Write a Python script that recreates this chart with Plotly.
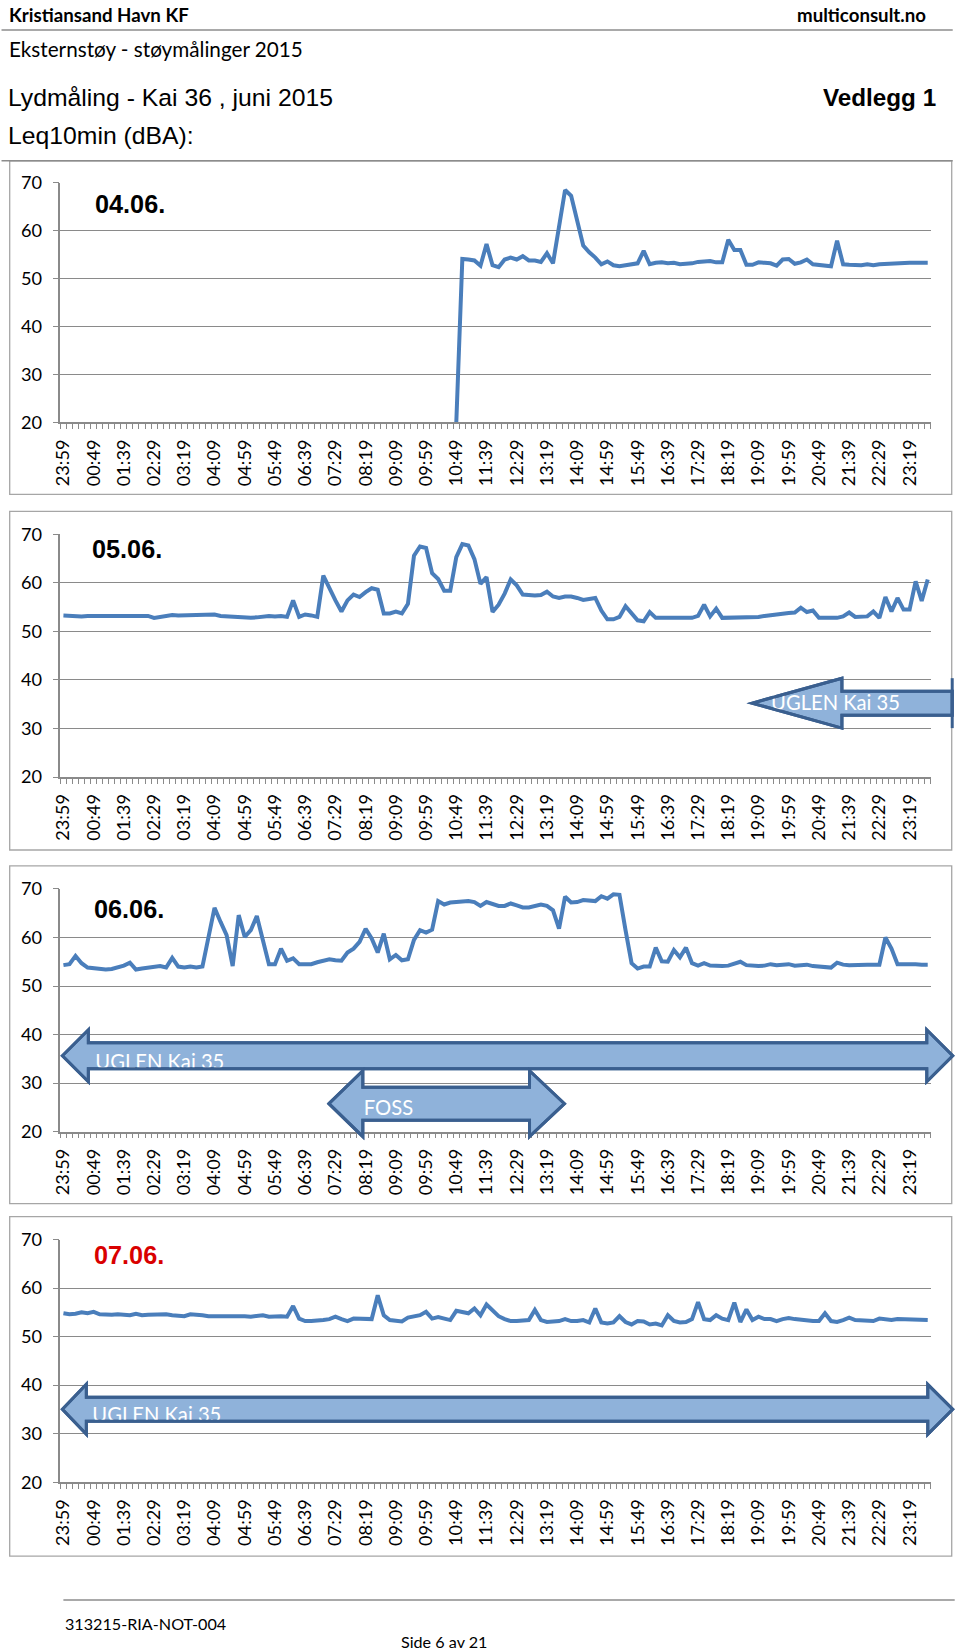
import plotly.graph_objects as go

# Layout is written in target-picture pixel coordinates (960 x 1651) and mapped into
# figure pixels; the photographed page shows the figure slightly offset and scaled.
AX, SX = 7.5, 0.9925
AY, SY = 11.0, 0.988
W, H = 960, 1666

# ---------------- data ----------------
# 10-minute categories from 23:59 (previous day) to 23:49
start_min = 23 * 60 + 59
times = []
for k in range(144):
    t = (start_min + 10 * k) % (24 * 60)
    times.append(f"{t // 60:02d}:{t % 60:02d}")

label_times = ["23:59", "00:49", "01:39", "02:29", "03:19", "04:09", "04:59", "05:49",
               "06:39", "07:29", "08:19", "09:09", "09:59", "10:49", "11:39", "12:29",
               "13:19", "14:09", "14:59", "15:49", "16:39", "17:29", "18:19", "19:09",
               "19:59", "20:49", "21:39", "22:29", "23:19"]

y_ticks = [20, 30, 40, 50, 60, 70]

day_titles = ["04.06.", "05.06.", "06.06.", "07.06."]
day_title_colors = ["#000000", "#000000", "#000000", "#D90000"]

# 04.06. - no data before 10:49
day04 = [None] * 65 + [
    20.0,
    54.1, 54.0, 53.8, 52.7, 57.2, 52.8, 52.4, 54.0, 54.4, 54.0,
    54.7, 53.8, 53.8, 53.5, 55.3, 53.2, 61.0, 68.5, 67.3, 62.4,
    56.9, 55.5, 54.4, 53.0, 53.6, 52.8, 52.6, 52.8, 53.0, 53.2,
    55.8, 53.0, 53.3, 53.4, 53.2, 53.3, 53.0, 53.0, 53.2, 53.5,
    53.7, 53.7, 53.4, 53.4, 58.1, 56.0, 56.0, 52.9, 52.9, 53.4,
    53.3, 53.2, 52.7, 54.0, 54.1, 53.1, 53.4, 54.0, 53.0, 52.9,
    52.7, 52.6, 57.9, 53.0, 52.9, 52.8, 52.8, 53.0, 52.8, 53.0,
    53.1, 53.2, 53.3, 53.3, 53.3, 53.3, 53.3, 53.3]

day05 = [
    53.3, 53.2, 53.2, 53.1, 53.2, 53.2, 53.1, 53.1, 53.0, 53.0,
    53.0, 53.1, 53.1, 53.0, 53.2, 52.8, 53.0, 53.1, 53.4, 53.3,
    53.3, 53.3, 53.4, 53.3, 53.5, 53.5, 53.2, 53.1, 53.0, 52.8,
    52.9, 52.8, 52.9, 53.1, 53.2, 53.1, 53.2, 53.0, 56.4, 53.0,
    53.5, 53.3, 53.0, 61.5, 58.8, 56.4, 54.1, 56.4, 57.6, 57.1,
    58.1, 58.9, 58.6, 53.7, 53.7, 54.1, 53.7, 55.7, 65.6, 67.5,
    67.2, 62.0, 60.8, 58.4, 58.4, 65.3, 68.0, 67.7, 64.9, 59.8,
    61.2, 54.0, 55.5, 57.8, 60.7, 59.5, 57.6, 57.4, 57.4, 57.5,
    58.2, 57.2, 56.9, 57.2, 57.2, 56.9, 56.5, 56.7, 56.9, 54.3,
    52.5, 52.5, 53.0, 55.2, 53.8, 52.3, 52.1, 54.0, 52.8, 52.8,
    53.0, 52.8, 52.8, 52.8, 52.8, 53.2, 55.5, 53.1, 54.7, 52.8,
    52.8, 52.8, 52.8, 52.8, 53.0, 53.0, 53.2, 53.4, 53.5, 53.6,
    53.8, 53.9, 54.9, 54.0, 54.3, 52.8, 52.8, 52.8, 52.8, 53.1,
    53.9, 53.0, 53.0, 53.1, 54.1, 52.8, 57.1, 54.1, 56.9, 54.5,
    54.5, 60.3, 56.3, 60.7]

day06 = [
    54.3, 54.5, 56.2, 54.7, 53.8, 53.6, 53.6, 53.4, 53.5, 53.8,
    54.2, 54.8, 53.4, 53.6, 53.8, 54.0, 54.1, 53.8, 55.8, 54.0,
    53.8, 54.0, 53.8, 54.0, 60.1, 66.1, 63.2, 60.5, 54.1, 64.6,
    60.1, 61.5, 64.4, 59.5, 54.5, 54.5, 57.7, 55.2, 55.7, 54.5,
    54.5, 54.5, 54.9, 55.2, 55.5, 55.3, 55.2, 56.9, 57.7, 59.1,
    61.8, 59.8, 56.9, 60.8, 55.5, 56.4, 55.3, 55.5, 59.5, 61.5,
    61.0, 61.6, 67.5, 66.8, 67.2, 67.3, 67.4, 67.5, 67.3, 66.5,
    67.3, 67.0, 66.5, 66.5, 67.0, 66.6, 66.2, 66.2, 66.5, 66.8,
    66.5, 65.6, 61.8, 68.4, 67.2, 67.3, 67.7, 67.5, 67.5, 68.5,
    68.0, 68.9, 68.8, 61.5, 54.7, 53.6, 54.0, 54.0, 57.9, 55.1,
    55.0, 57.4, 55.9, 57.9, 54.7, 54.2, 54.7, 54.2, 54.1, 54.1,
    54.2, 54.5, 55.0, 54.3, 54.1, 54.1, 54.2, 54.5, 54.3, 54.3,
    54.5, 54.2, 54.2, 54.4, 54.1, 54.0, 53.8, 53.8, 54.8, 54.4,
    54.3, 54.4, 54.3, 54.4, 54.4, 54.4, 60.0, 57.7, 54.5, 54.5,
    54.7, 54.5, 54.4, 54.4]

day07 = [
    54.8, 54.6, 54.7, 55.0, 54.8, 55.1, 54.6, 54.5, 54.5, 54.6,
    54.5, 54.4, 54.7, 54.4, 54.5, 54.6, 54.6, 54.6, 54.4, 54.4,
    54.2, 54.6, 54.6, 54.4, 54.2, 54.2, 54.2, 54.4, 54.4, 54.4,
    54.2, 54.1, 54.2, 54.4, 54.1, 54.2, 54.2, 54.1, 56.3, 53.7,
    53.2, 53.2, 53.2, 53.4, 53.6, 54.1, 53.6, 53.2, 53.7, 53.6,
    53.6, 53.6, 58.5, 54.4, 53.4, 53.2, 53.1, 53.9, 54.1, 54.4,
    55.1, 53.7, 54.0, 53.6, 53.4, 55.3, 55.1, 54.8, 55.8, 54.4,
    56.6, 55.3, 54.2, 53.6, 53.2, 53.2, 53.4, 53.4, 55.5, 53.4,
    53.0, 53.0, 53.2, 53.6, 53.2, 53.2, 53.4, 52.9, 55.8, 52.9,
    52.7, 52.9, 54.2, 53.0, 52.5, 53.2, 53.1, 52.5, 52.7, 52.3,
    54.4, 53.2, 52.9, 53.0, 53.6, 57.1, 53.6, 53.4, 54.4, 53.7,
    53.4, 57.0, 53.0, 55.6, 53.4, 54.1, 53.6, 53.6, 53.2, 53.6,
    53.8, 53.6, 53.4, 53.2, 53.2, 53.2, 54.8, 53.2, 53.0, 53.4,
    53.9, 53.4, 53.4, 53.4, 53.2, 53.7, 53.6, 53.4, 53.6, 53.6,
    53.6, 53.4, 53.4, 53.4]

days = [day04, day05, day06, day07]

# ---------------- layout geometry (target pixels) ----------------
def px(x):
    return ((x - AX) / SX) / W

def py(y):
    return 1 - ((y - AY) / SY) / H

def fs(size):
    return size / 0.99

PLOT_L, PLOT_R = 59, 931
Y70 = [182, 534, 889, 1240]
Y20 = [422, 777, 1132, 1483]
BOX_TOP = [160, 511, 866, 1217]
BOX_BOT = [494, 850, 1204, 1557]
BOX_L, BOX_R = 8.2, 952

GRID = "#8A8A8A"
LINE_BLUE = "#4A7EBB"
ARROW_FILL = "#8FB2DA"
ARROW_EDGE = "#3A5F8F"
TICK_FONT = dict(family="Lato, Noto Sans, sans-serif", size=fs(18), color="#000000")

ticktext = [t if t in label_times else "" for t in times]

fig = go.Figure()
layout_axes = {}
for k in range(4):
    xs = "" if k == 0 else str(k + 1)
    fig.add_trace(go.Scatter(
        x=times, y=days[k], mode="lines",
        line=dict(color=LINE_BLUE, width=4),
        connectgaps=False, showlegend=False, hoverinfo="skip",
        xaxis="x" + xs, yaxis="y" + xs))
    layout_axes["xaxis" + xs] = dict(
        domain=[px(PLOT_L), px(PLOT_R)], anchor="y" + xs,
        type="category", categoryorder="array", categoryarray=times,
        range=[-0.5, len(times) - 0.5],
        tickmode="array", tickvals=times, ticktext=ticktext,
        tickson="boundaries", ticks="outside", ticklen=5, tickwidth=1,
        tickcolor=GRID, showline=True, linecolor=GRID, linewidth=1.5,
        showgrid=False, zeroline=False, tickangle=-90,
        tickfont=TICK_FONT, ticklabelstandoff=8, fixedrange=True)
    layout_axes["yaxis" + xs] = dict(
        domain=[py(Y20[k]), py(Y70[k])], anchor="x" + xs,
        range=[20, 70], tickmode="array", tickvals=y_ticks,
        ticks="outside", ticklen=6, tickwidth=1.3, tickcolor=GRID,
        showline=True, linecolor=GRID, linewidth=1.5,
        showgrid=True, gridcolor=GRID, gridwidth=1.4, zeroline=False,
        tickfont=TICK_FONT, ticklabelstandoff=7, fixedrange=True)

shapes = []
annotations = []

def hline(x0, x1, y, color="#8C8C8C", width=1.5):
    shapes.append(dict(type="line", xref="paper", yref="paper",
                       x0=px(x0), x1=px(x1), y0=py(y), y1=py(y),
                       line=dict(color=color, width=width), layer="above"))

# header rules and footer rule
hline(0, 953, 29)
hline(0, 953, 160)
hline(62, 955, 1601)

# panel boxes
for k in range(4):
    shapes.append(dict(type="rect", xref="paper", yref="paper",
                       x0=px(BOX_L), x1=px(BOX_R), y0=py(BOX_BOT[k]), y1=py(BOX_TOP[k]),
                       line=dict(color="#A6A6A6", width=1.3), fillcolor="rgba(0,0,0,0)",
                       layer="below"))

def path_str(pts):
    s = "M " + " L ".join(f"{px(x):.5f},{py(y):.5f}" for x, y in pts) + " Z"
    return s

def double_arrow(xl_tip, xl_base, xr_base, xr_tip, yc, hh, sh):
    return [(xl_tip, yc), (xl_base, yc - hh), (xl_base, yc - sh), (xr_base, yc - sh),
            (xr_base, yc - hh), (xr_tip, yc), (xr_base, yc + hh), (xr_base, yc + sh),
            (xl_base, yc + sh), (xl_base, yc + hh)]

def left_arrow(x_tip, x_base, x_end, yc, hh, sh):
    return [(x_tip, yc), (x_base, yc - hh), (x_base, yc - sh), (x_end, yc - sh),
            (x_end, yc + sh), (x_base, yc + sh), (x_base, yc + hh)]

def add_arrow(pts, text, tx, ty, fsize=20):
    p = path_str(pts)
    shapes.append(dict(type="path", xref="paper", yref="paper", path=p,
                       fillcolor=ARROW_FILL, line=dict(color=ARROW_EDGE, width=3),
                       layer="above"))
    shapes.append(dict(type="rect", xref="paper", yref="paper",
                       x0=px(tx), x1=px(tx + 160), y0=py(ty + 12), y1=py(ty - 12),
                       line=dict(width=0), fillcolor="rgba(0,0,0,0)", layer="above",
                       label=dict(text=text, textposition="middle left", padding=0,
                                  font=dict(family="Lato, sans-serif", size=fs(fsize),
                                            color="#FFFFFF"))))
    shapes.append(dict(type="path", xref="paper", yref="paper", path=p,
                       fillcolor="rgba(0,0,0,0)", line=dict(color=ARROW_EDGE, width=3),
                       layer="above"))

# 05.06. UGLEN arrow (left, clipped on the right)
add_arrow(left_arrow(752, 842, 952.5, 703, 25, 12), "UGLEN Kai 35", 768, 702)
shapes.append(dict(type="line", xref="paper", yref="paper",
                   x0=px(952.5), x1=px(952.5), y0=py(678), y1=py(728),
                   line=dict(color=ARROW_EDGE, width=3), layer="above"))
# 06.06.
add_arrow(double_arrow(61, 87, 927, 953, 1056, 26, 13), "UGLEN Kai 35", 91, 1061)
add_arrow(double_arrow(328, 362, 529, 564, 1104, 33, 16.5), "FOSS", 360, 1107)
# 07.06.
add_arrow(double_arrow(61, 85, 928, 953, 1410, 25, 12), "UGLEN Kai 35", 88, 1415)

def text(x, y, s, size, family, color="#000000", bold=False, xanchor="left"):
    annotations.append(dict(xref="paper", yref="paper", x=px(x), y=py(y), text=s,
                            showarrow=False, xanchor=xanchor, yanchor="middle",
                            font=dict(family=family, size=fs(size), color=color,
                                      weight="bold" if bold else "normal")))

SANS = "Lato, sans-serif"
ARIAL = "Liberation Sans, Arial, sans-serif"
text(5, 14, "Kristiansand Havn KF", 18.5, SANS, bold=True)
text(928, 14, "multiconsult.no", 18.5, SANS, bold=True, xanchor="right")
text(5, 48, "Eksternstøy - støymålinger 2015", 20.5, SANS)
text(4, 97, "Lydmåling - Kai 36 , juni 2015", 24.5, ARIAL)
text(938, 97, "Vedlegg 1", 24, ARIAL, bold=True, xanchor="right")
text(4, 135, "Leq10min (dBA):", 24.5, ARIAL)

title_pos = [(92, 203), (89, 549), (91, 909), (91, 1256)]
for k in range(4):
    text(title_pos[k][0], title_pos[k][1], day_titles[k], 25, ARIAL,
         color=day_title_colors[k], bold=True)

text(62, 1624, "313215-RIA-NOT-004", 16, SANS)
text(443, 1642, "Side 6 av 21", 16, SANS, xanchor="center")

fig.update_layout(
    width=W, height=H, autosize=False,
    margin=dict(l=0, r=0, t=0, b=0),
    paper_bgcolor="white", plot_bgcolor="white",
    showlegend=False,
    shapes=shapes, annotations=annotations,
    **layout_axes)

fig.write_html(
    "out.html",
    config={"displayModeBar": False, "responsive": False})
